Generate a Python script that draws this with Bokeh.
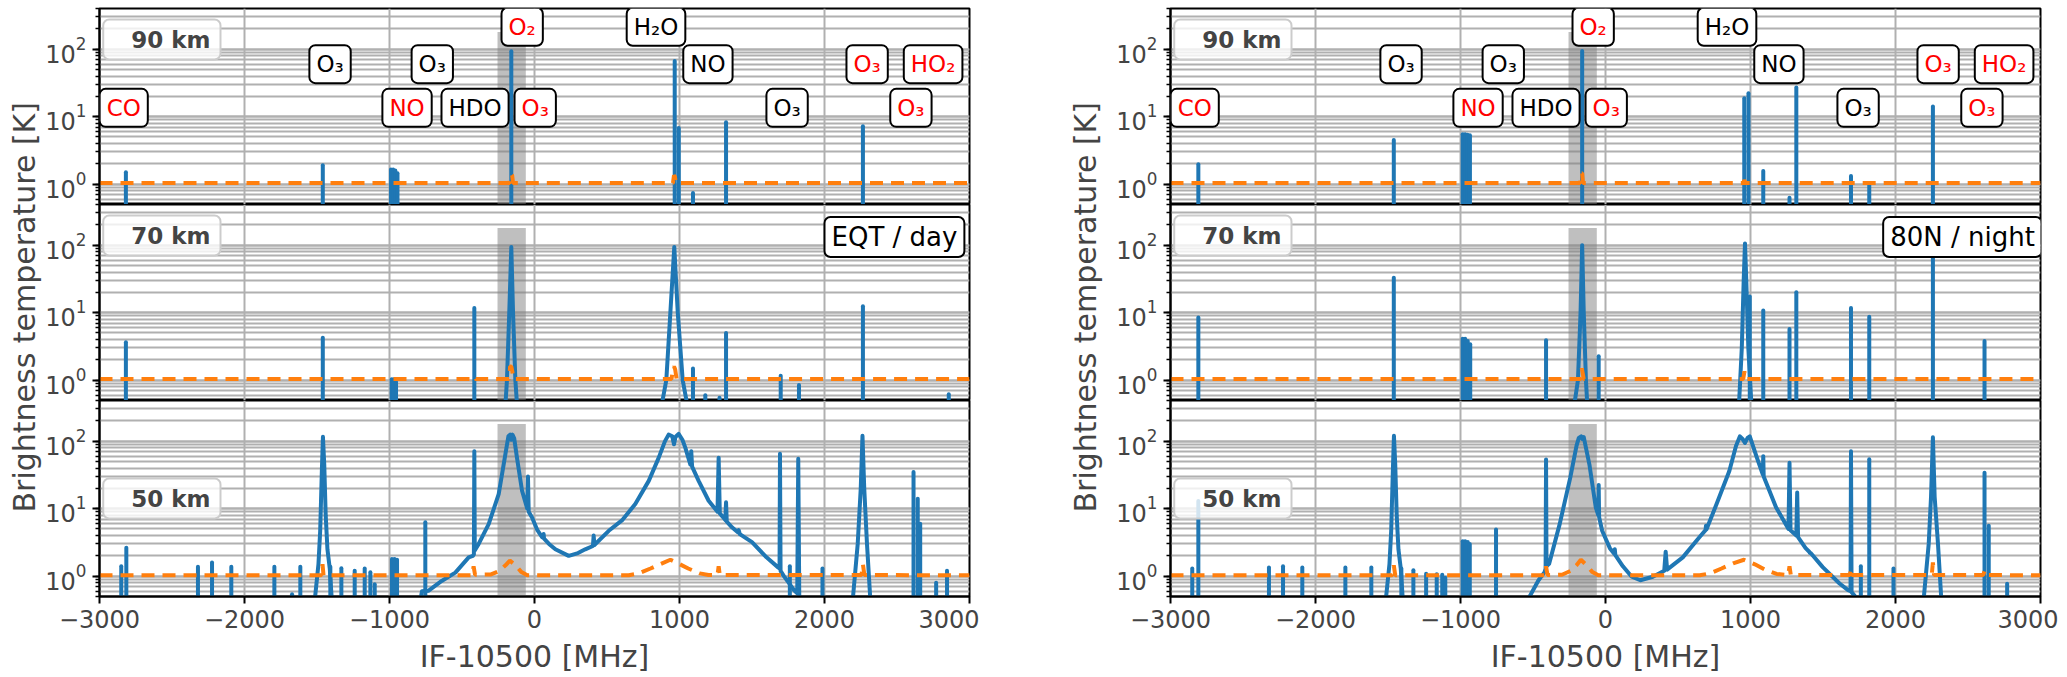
from bokeh.plotting import figure
from bokeh.models import Label, FixedTicker, Range1d
from bokeh.layouts import row, column
from bokeh.embed import file_html
from bokeh.resources import INLINE

# ---------------- data ----------------
X_RANGE = (-3000, 3000)
Y_RANGE = (0.5, 400)
x_ticks = [-3000, -2000, -1000, 0, 1000, 2000, 3000]
x_tick_labels = ["−3000", "−2000", "−1000", "0", "1000", "2000", "3000"]
band_x = [-255, -60]          # shaded O2 window [MHz]
band_top = 180                # K
BOT = 0.3                     # spectrum floor (below plotted range)

# species annotation boxes (same in both columns, top panel)
label_text = ["O₂", "H₂O", "O₃", "O₃", "NO", "O₃", "HO₂", "CO", "NO", "HDO", "O₃", "O₃", "O₃"]
label_color = ["red", "black", "black", "black", "black", "red", "red", "red", "red", "black", "red", "black", "red"]
label_x = [-85, 838, -1410, -705, 1196, 2294, 2749, -2833, -879, -410, 5, 1742, 2596]
label_y = [215, 215, 60, 60, 60, 60, 60, 13.5, 13.5, 13.5, 13.5, 13.5, 13.5]

# location boxes in the 70 km panels
loc_day_x, loc_night_x, loc_y = 2000, 1915, 132

# ---------- EQT / day ----------
day90_f = [-2818, -1460, -990, -975, -960, -945, -160, 967, 995, 1093, 1321, 2265]
day90_top = [1.5, 1.9, 1.65, 1.65, 1.6, 1.45, 93, 67, 6.8, 0.74, 8.3, 7.2]
day90_or_f = [-3000, -172, -166, -160, -154, -148, 955, 962, 968, 975, 3000]
day90_or_t = [1.04, 1.04, 1.35, 1.4, 1.35, 1.04, 1.04, 1.35, 1.3, 1.04, 1.04]

day70_f = [-2818, -1460, -985, -970, -955, -415, 1093, 1178, 1276, 1321, 1698, 1824, 2265, 2857]
day70_top = [3.66, 4.25, 1.03, 1.03, 0.95, 11.7, 1.49, 0.6, 0.55, 5.0, 1.16, 0.85, 12.4, 0.62]
day70_o2_f = [-200, -190, -174, -160, -148, -132, -121]
day70_o2_t = [0.45, 1.0, 10, 94, 10, 1.0, 0.45]
day70_h2o_f = [879, 909, 937, 964, 988, 1022, 1052]
day70_h2o_t = [0.45, 1.0, 10, 94, 10, 1.0, 0.45]
day70_or_f = [-3000, -425, -415, -405, -175, -168, -160, -152, -145, 945, 955, 962, 970, 980, 3000]
day70_or_t = [1.04, 1.04, 1.12, 1.04, 1.04, 1.6, 1.6, 1.3, 1.04, 1.04, 1.45, 1.6, 1.45, 1.04, 1.04]

day50_f = [-2850, -2815, -2321, -2224, -2091, -1794, -1672, -1615, -1408, -1332, -1240, -1171,
           -1132, -1102, -983, -965, -948, -753, 1761, 1986, 2614, 2643, 2660, 2770, 2845]
day50_top = [1.40, 2.63, 1.38, 1.6, 1.38, 1.38, 0.54, 1.38, 1.38, 1.31, 1.2, 1.3,
             1.14, 0.76, 1.8, 1.8, 1.75, 6.3, 1.4, 1.3, 35, 14, 6, 0.8, 1.2]
day50_o3a_f = [-1515, -1490, -1478, -1466, -1459, -1450, -1440, -1428, -1412, -1398]
day50_o3a_t = [0.45, 1.5, 4.7, 40, 116, 45, 8, 2.5, 1.3, 0.45]
day50_cont_f = [-790, -776, -730, -640, -546, -454, -425, -418, -415, -412, -385, -316, -247,
                -201, -180, -168, -160, -152, -140, -121, -86, -50, -45, -40, -17, 20, 52,
                60, 63, 66, 100, 144, 236, 300, 350, 403, 408, 413, 512, 603, 695, 788, 857,
                900, 925, 950, 962, 972, 994, 1020, 1040, 1075, 1081, 1087, 1132, 1201,
                1262, 1270, 1278, 1300, 1316, 1321, 1326, 1362, 1400, 1408, 1416, 1500,
                1600, 1680, 1690, 1693, 1697, 1720, 1790, 1812, 1819, 1826, 1860]
day50_cont_t = [0.4, 0.6, 0.61, 0.85, 1.13, 1.9, 2.0, 2.1, 71, 2.4, 3.0, 5.9, 16.4,
                63.6, 118, 125, 105, 125, 110, 57, 18.4, 10, 30, 9, 7.4, 4.8, 3.8,
                3.7, 4.2, 3.6, 3.0, 2.5, 2.0, 2.2, 2.5, 2.8, 4.0, 2.9, 4.7, 6.7, 11.7, 25.8, 57,
                100, 125, 118, 90, 115, 128, 105, 80, 45, 71, 42, 25.8, 13.1,
                9.0, 57, 8.5, 7.5, 6.8, 12.4, 6.4, 5.3, 4.5, 4.8, 4.2, 3.2,
                1.9, 1.35, 1.3, 65, 1.2, 1.0, 0.62, 0.56, 55, 0.5, 0.4]
day50_o3b_f = [2195, 2229, 2250, 2262, 2274, 2293, 2316]
day50_o3b_t = [0.45, 3.0, 20, 120, 20, 3.0, 0.45]
day50_or_f = [-3000, -1470, -1462, -1455, -430, -420, -410, -300, -240, -200, -170, -130, -90, -50,
              650, 720, 800, 880, 937, 990, 1060, 1140, 1200, 1262, 1270, 1278, 2255, 2265, 2275, 3000]
day50_or_t = [1.03, 1.03, 1.5, 1.03, 1.03, 1.4, 1.05, 1.06, 1.2, 1.45, 1.7, 1.45, 1.15, 1.03,
              1.03, 1.1, 1.3, 1.55, 1.75, 1.55, 1.3, 1.1, 1.04, 1.04, 1.4, 1.04, 1.04, 1.5, 1.04, 1.03]

# ---------- 80N / night ----------
night90_f = [-2808, -1460, -985, -968, -952, -935, -161, 957, 986, 1088, 1269, 1316, 1693, 1819, 2258]
night90_top = [1.97, 4.5, 5.5, 5.5, 5.4, 5.3, 93.5, 18.8, 22.2, 1.57, 0.63, 27, 1.32, 0.98, 14.2]
night90_or_f = [-3000, -175, -168, -161, -155, 950, 957, 965, 3000]
night90_or_t = [1.04, 1.04, 1.45, 1.45, 1.04, 1.04, 1.15, 1.04, 1.04]

night70_f = [-2808, -1460, -985, -968, -950, -933, -410, -47, 995, 1088, 1269, 1316, 1693, 1819, 2258, 2614]
night70_top = [8.5, 33, 4.1, 4.1, 3.8, 3.4, 3.9, 2.27, 17.4, 10.8, 5.75, 20, 11.7, 8.7, 75, 3.8]
night70_o2_f = [-214, -190, -172, -161, -150, -135, -126]
night70_o2_t = [0.45, 1.0, 10, 100, 10, 1.0, 0.45]
night70_h2o_f = [921, 940, 953, 962, 971, 985, 1006]
night70_h2o_t = [0.45, 3.0, 30, 106, 30, 3.0, 0.45]
night70_or_f = [-3000, -170, -163, -158, -150, 950, 958, 965, 3000]
night70_or_t = [1.04, 1.04, 1.5, 1.3, 1.04, 1.04, 1.35, 1.04, 1.04]

night50_f = [-2850, -2808, -2321, -2224, -2091, -1794, -1615, -1408, -1325, -1237, -1164, -1126,
             -1105, -985, -968, -950, -936, -755, 1761, 1819, 1986, 2614, 2643, 2770]
night50_top = [1.3, 13, 1.35, 1.4, 1.35, 1.35, 1.35, 1.3, 1.22, 1.09, 1.07, 1.05,
               0.95, 3.3, 3.3, 3.2, 3.0, 4.9, 1.4, 54, 1.3, 34, 5.6, 0.77]
night50_o3a_f = [-1515, -1490, -1478, -1466, -1459, -1450, -1440, -1428, -1412, -1398]
night50_o3a_t = [0.45, 1.5, 4.7, 40, 120, 45, 8, 2.5, 1.3, 0.45]
night50_cont_f = [-535, -462, -420, -413, -410, -407, -389, -316, -243, -200, -184, -168, -160,
                  -150, -111, -67, -50, -47, -44, -23, 30, 60, 64, 68, 120, 181, 240, 327, 405,
                  415, 425, 533, 649, 690, 693, 696, 766, 854, 900, 927, 945, 962, 980, 995,
                  1044, 1085, 1088, 1091, 1176, 1262, 1269, 1276, 1316, 1322, 1328, 1380, 1405,
                  1410, 1415, 1498, 1614, 1673, 1690, 1693, 1697, 1740]
night50_cont_t = [0.45, 0.87, 1.15, 1.3, 53.7, 1.4, 1.52, 5.9, 28.8, 85, 112, 118, 108,
                  115, 45, 10.4, 8.0, 22.5, 7.5, 4.7, 2.6, 2.15, 2.5, 2.05, 1.4, 0.98, 0.87, 0.98, 1.2,
                  2.3, 1.25, 1.9, 3.8, 4.8, 5.6, 4.9, 11.7, 36.2, 85, 118, 108, 94, 112, 118,
                  57, 32, 60, 30, 10.5, 5.0, 48, 4.8, 4.0, 17.4, 3.8, 2.6, 2.3,
                  2.2, 2.2, 1.36, 0.78, 0.62, 0.6, 71, 0.58, 0.45]
night50_o3b_f = [2194, 2229, 2245, 2258, 2270, 2293, 2316]
night50_o3b_t = [0.45, 3.0, 15, 114, 15, 3.0, 0.45]
night50_or_f = [-3000, -1470, -1460, -1450, -420, -410, -400, -300, -240, -200, -170, -130, -90, -50,
                650, 720, 800, 880, 955, 1030, 1100, 1180, 1260, 1269, 1278, 1685, 1693, 1700,
                2250, 2258, 2266, 2605, 2614, 2623, 3000]
night50_or_t = [1.03, 1.03, 1.45, 1.03, 1.03, 1.4, 1.04, 1.05, 1.2, 1.45, 1.75, 1.45, 1.15, 1.03,
                1.03, 1.1, 1.3, 1.55, 1.75, 1.5, 1.25, 1.08, 1.04, 1.4, 1.04, 1.04, 1.3, 1.04,
                1.04, 1.6, 1.04, 1.04, 1.2, 1.04, 1.03]

# ---------------- styling ----------------
FONT = "DejaVu Sans"
BLUE = "#1f77b4"
ORANGE = "#ff7f0e"
GRID = "#b0b0b0"
FRAME_W = 870
FRAME_H = 196
TOP_BORDER = 8
YLABEL = "Brightness  temperature [K]"


def make_panel(pos, col, spikes, profiles, orange, alt_text, loc=None):
    p = figure(frame_width=FRAME_W, frame_height=FRAME_H,
               x_range=Range1d(*X_RANGE), y_range=Range1d(*Y_RANGE),
               y_axis_type="log",
               x_axis_location="below" if pos == 2 else None,
               output_backend="svg", toolbar_location=None,
               min_border_left=56, min_border_right=10 if col == 0 else 18,
               min_border_top=TOP_BORDER if pos == 0 else 0, min_border_bottom=0)
    p.background_fill_color = "white"
    p.border_fill_color = "white"
    p.outline_line_color = "black"
    p.outline_line_width = 2

    p.xgrid.ticker = FixedTicker(ticks=x_ticks)
    p.xgrid.grid_line_color = GRID
    p.xgrid.grid_line_width = 2
    p.ygrid.grid_line_color = GRID
    p.ygrid.grid_line_width = 2
    p.ygrid.minor_grid_line_color = GRID
    p.ygrid.minor_grid_line_width = 2

    ya = p.yaxis[0]
    ya.major_label_text_font_size = "24px"
    ya.major_label_text_font = FONT
    ya.major_tick_out = 7
    ya.major_tick_in = 0
    ya.minor_tick_out = 4
    ya.minor_tick_in = 0
    ya.major_tick_line_width = 2
    ya.minor_tick_line_width = 1.5
    ya.axis_line_width = 2
    ya.major_label_standoff = 6

    if pos == 2:
        xa = p.xaxis[0]
        xa.ticker = FixedTicker(ticks=x_ticks)
        xa.major_label_overrides = dict(zip(x_ticks, x_tick_labels))
        xa.major_label_text_font_size = "24px"
        xa.major_label_text_font = FONT
        xa.major_tick_out = 7
        xa.major_tick_in = 0
        xa.minor_tick_out = 0
        xa.minor_tick_in = 0
        xa.major_tick_line_width = 2
        xa.axis_line_width = 2
        xa.major_label_standoff = 6
        xa.axis_label = "IF-10500 [MHz]"
        xa.axis_label_text_font = FONT
        xa.axis_label_text_font_size = "30px"
        xa.axis_label_text_font_style = "normal"
        xa.axis_label_standoff = 8

    # O2 window
    p.quad(left=[band_x[0]], right=[band_x[1]], bottom=[BOT], top=[band_top],
           fill_color="gray", fill_alpha=0.5, line_color=None)

    sf, stop = spikes
    p.segment(x0=sf, y0=[BOT] * len(sf), x1=sf, y1=stop,
              line_color=BLUE, line_width=4, line_cap="round")
    for pf, pt in profiles:
        p.line(pf, pt, line_color=BLUE, line_width=4, line_join="round", line_cap="round")
    of, ot = orange
    p.line(of, ot, line_color=ORANGE, line_width=4, line_dash="13 8")

    # altitude box (legend-like)
    p.add_layout(Label(x=121, y=(FRAME_H - 31) if pos < 2 else FRAME_H / 2,
                       x_units="screen", y_units="screen",
                       text=alt_text, text_font=FONT, text_font_size="23px",
                       text_font_style="bold", text_align="right", text_baseline="middle",
                       background_fill_color="white", background_fill_alpha=0.8,
                       border_line_color="#cccccc", border_line_width=2,
                       border_radius=6, padding=dict(left=28, right=10, top=7, bottom=7)))

    if pos == 0:
        for t, c, lx, ly in zip(label_text, label_color, label_x, label_y):
            p.add_layout(Label(x=lx, y=ly, text=t, text_color=c, text_font=FONT,
                               text_font_size="23px", text_align="center",
                               text_baseline="middle",
                               background_fill_color="white", border_line_color="black",
                               border_line_width=2, border_radius=6,
                               padding=dict(left=7, right=7, top=6, bottom=6)))
    if loc is not None:
        loc_text, loc_x = loc
        p.add_layout(Label(x=loc_x, y=loc_y, text=loc_text, text_color="black", text_font=FONT,
                           text_font_size="26px", text_align="left", text_baseline="middle",
                           background_fill_color="white", border_line_color="black",
                           border_line_width=2, border_radius=6,
                           padding=dict(left=7, right=7, top=5, bottom=5)))
    return p


def ylabel_fig(width, cx):
    H = 620
    p = figure(width=width, height=H, x_range=Range1d(0, 1), y_range=Range1d(0, 1),
               x_axis_location=None, y_axis_location=None, output_backend="svg",
               toolbar_location=None, min_border=0)
    p.outline_line_color = None
    p.grid.visible = False
    p.border_fill_color = "white"
    p.add_layout(Label(x=cx, y=H - (TOP_BORDER + 1.5 * FRAME_H), x_units="screen", y_units="screen",
                       text=YLABEL, angle=90, angle_units="deg", text_align="center",
                       text_baseline="middle", text_font=FONT, text_font_size="30px"))
    return p


L90 = make_panel(0, 0, (day90_f, day90_top), [], (day90_or_f, day90_or_t), "90 km")
L70 = make_panel(1, 0, (day70_f, day70_top),
                 [(day70_o2_f, day70_o2_t), (day70_h2o_f, day70_h2o_t)],
                 (day70_or_f, day70_or_t), "70 km", ("EQT / day", loc_day_x))
L50 = make_panel(2, 0, (day50_f, day50_top),
                 [(day50_o3a_f, day50_o3a_t), (day50_cont_f, day50_cont_t), (day50_o3b_f, day50_o3b_t)],
                 (day50_or_f, day50_or_t), "50 km")

R90 = make_panel(0, 1, (night90_f, night90_top), [], (night90_or_f, night90_or_t), "90 km")
R70 = make_panel(1, 1, (night70_f, night70_top),
                 [(night70_o2_f, night70_o2_t), (night70_h2o_f, night70_h2o_t)],
                 (night70_or_f, night70_or_t), "70 km", ("80N / night", loc_night_x))
R50 = make_panel(2, 1, (night50_f, night50_top),
                 [(night50_o3a_f, night50_o3a_t), (night50_cont_f, night50_cont_t), (night50_o3b_f, night50_o3b_t)],
                 (night50_or_f, night50_or_t), "50 km")

layout = row(ylabel_fig(42, 24), column(L90, L70, L50),
             ylabel_fig(134, 106), column(R90, R70, R50))

open("out.html", "w").write(file_html(layout, INLINE))
